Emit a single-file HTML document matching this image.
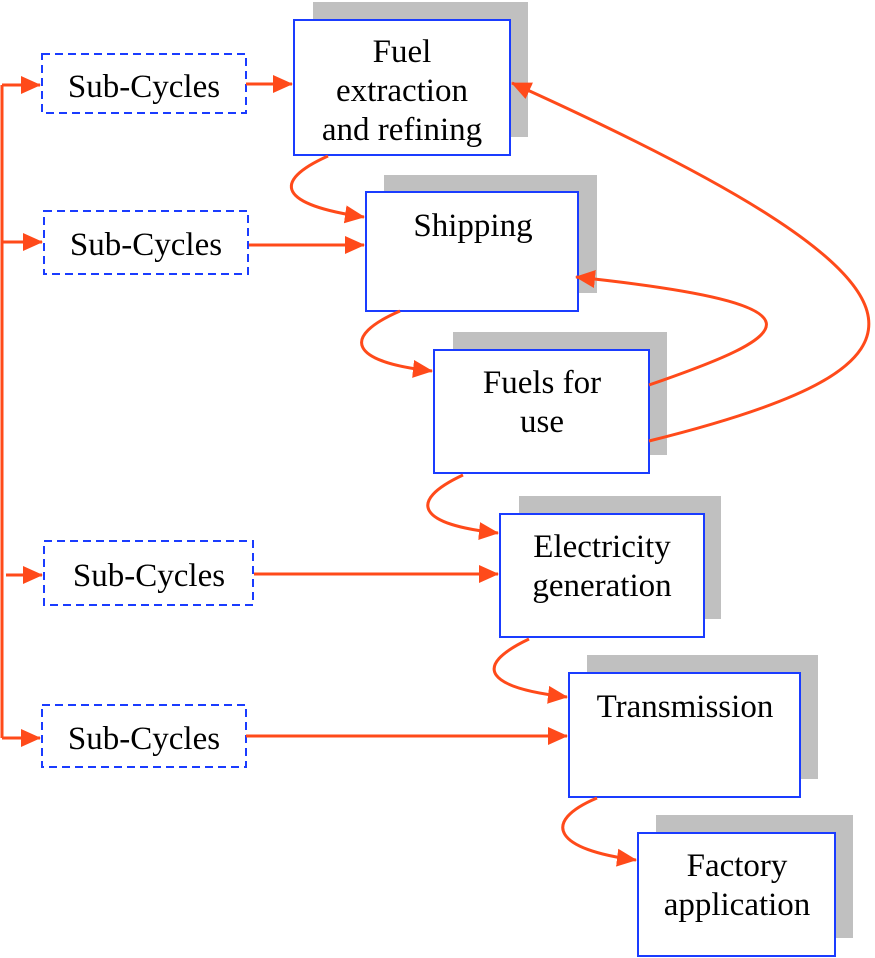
<!DOCTYPE html>
<html><head><meta charset="utf-8"><style>
html,body{margin:0;padding:0;background:#fff;}
svg{display:block;}
text{font-family:"Liberation Serif",serif;font-size:33px;fill:#000;text-anchor:middle;}
</style></head><body>
<svg width="875" height="958" viewBox="0 0 875 958" xmlns="http://www.w3.org/2000/svg">
<defs>
<marker id="b" markerWidth="20" markerHeight="18" refX="19" refY="9" orient="auto" markerUnits="userSpaceOnUse" viewBox="0 0 20 18">
<path d="M0,0 L20,9 L0,18 z" fill="#ff4a1a"/></marker>
</defs>
<g fill="#c0c0c0">
<rect x="313" y="2" width="215" height="135"/>
<rect x="384" y="175" width="213" height="118"/>
<rect x="453" y="332" width="214" height="123"/>
<rect x="519" y="496" width="202" height="123"/>
<rect x="587" y="655" width="231" height="124"/>
<rect x="656" y="815" width="197" height="123"/>
</g>
<g fill="#fff" stroke="#1a3cff" stroke-width="2">
<rect x="294" y="20" width="216" height="135"/>
<rect x="366" y="192" width="212" height="119"/>
<rect x="434" y="350" width="215" height="123"/>
<rect x="500" y="514" width="204" height="123"/>
<rect x="569" y="673" width="231" height="124"/>
<rect x="638" y="833" width="197" height="123"/>
</g>
<g fill="#fff" stroke="#1a3cff" stroke-width="2" stroke-dasharray="8,5">
<rect x="42" y="54" width="204" height="59"/>
<rect x="44" y="211" width="204" height="63"/>
<rect x="44" y="541" width="209" height="64"/>
<rect x="42" y="705" width="204" height="62"/>
</g>
<g fill="none" stroke="#ff4a1a" stroke-width="3">
<line x1="2" y1="85" x2="2" y2="738"/>
<line x1="2" y1="85" x2="40" y2="85" marker-end="url(#b)"/>
<line x1="2" y1="242" x2="42" y2="242" marker-end="url(#b)"/>
<line x1="6" y1="575" x2="42" y2="575" marker-end="url(#b)"/>
<line x1="2" y1="738" x2="40" y2="738" marker-end="url(#b)"/>
<line x1="246" y1="84" x2="292" y2="84" marker-end="url(#b)"/>
<line x1="249" y1="245" x2="364" y2="245" marker-end="url(#b)"/>
<line x1="254" y1="574" x2="498" y2="574" marker-end="url(#b)"/>
<line x1="246" y1="736" x2="567" y2="736" marker-end="url(#b)"/>
<path d="M328,156 C270,182 280,205 364,217" marker-end="url(#b)"/>
<path d="M400,311 C340,337 350,362 432,371" marker-end="url(#b)"/>
<path d="M463,475 C405,502 420,525 498,533" marker-end="url(#b)"/>
<path d="M529,639 C470,667 488,688 567,697" marker-end="url(#b)"/>
<path d="M597,798 C540,822 555,850 636,860" marker-end="url(#b)"/>
<path d="M649,385 C795,335 840,305 576,277" marker-end="url(#b)"/>
<path d="M649,441 C955,365 970,290 512,83" marker-end="url(#b)"/>
</g>
<text x="402" y="62">Fuel</text>
<text x="402" y="101">extraction</text>
<text x="402" y="140">and refining</text>
<text x="473" y="236">Shipping</text>
<text x="542" y="393">Fuels for</text>
<text x="542" y="432">use</text>
<text x="602" y="557">Electricity</text>
<text x="602" y="596">generation</text>
<text x="685" y="717">Transmission</text>
<text x="737" y="876">Factory</text>
<text x="737" y="915">application</text>
<text x="144" y="97">Sub-Cycles</text>
<text x="146" y="255">Sub-Cycles</text>
<text x="149" y="586">Sub-Cycles</text>
<text x="144" y="749">Sub-Cycles</text>
</svg>
</body></html>
